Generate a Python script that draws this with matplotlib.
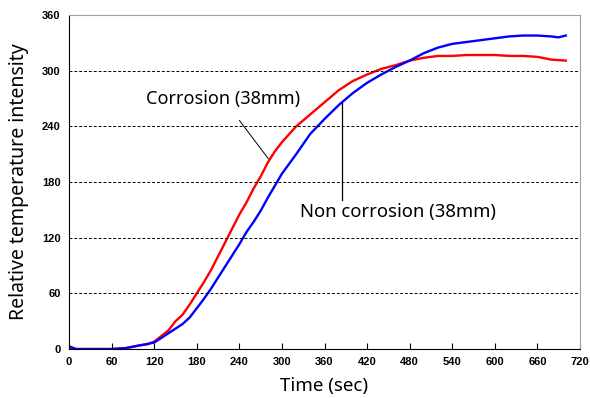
import matplotlib
matplotlib.use("Agg")
import matplotlib.pyplot as plt

# Corrosion (38mm) - red
t_cor = [0, 20, 40, 60, 80, 100, 110, 120, 130, 140, 150, 160, 170, 180, 190,
         200, 210, 220, 230, 240, 250, 260, 270, 280, 290, 300, 320, 340, 360,
         380, 400, 420, 440, 460, 480, 500, 520, 540, 560, 580, 600, 620, 640,
         660, 680, 700]
v_cor = [0, 0, 0, 0, 1, 4, 5, 8, 14, 20, 30, 37, 48, 60, 72,
         85, 100, 115, 130, 145, 158, 173, 186, 201, 213, 223, 240, 253, 266,
         279, 289, 296, 302, 306, 311, 314, 316, 316, 317, 317, 317, 316, 316,
         315, 312, 311]

# Non corrosion (38mm) - blue
t_non = [0, 10, 20, 40, 60, 80, 100, 120, 130, 140, 150, 160, 170, 180, 190,
         200, 210, 220, 230, 240, 250, 260, 270, 280, 290, 300, 320, 340, 360,
         380, 400, 420, 440, 460, 480, 500, 520, 540, 560, 580, 600, 620, 640,
         660, 680, 690, 700]
v_non = [3, 0, 0, 0, 0, 1, 4, 7, 12, 17, 22, 27, 34, 44, 54,
         65, 77, 89, 101, 113, 126, 137, 149, 163, 176, 189, 210, 232, 248,
         263, 276, 287, 296, 304, 311, 319, 325, 329, 331, 333, 335, 337, 338,
         338, 337, 336, 338]

x_ticks = list(range(0, 721, 60))
y_ticks = list(range(0, 361, 60))

fig = plt.figure(figsize=(5.9, 3.98), dpi=100)
ax = fig.add_axes([0.117, 0.123, 0.866, 0.839])

ax.plot(t_cor, v_cor, color="#ff0000", lw=1.7)
ax.plot(t_non, v_non, color="#0000ff", lw=1.7)

ax.set_xlim(0, 720)
ax.set_ylim(0, 360)
ax.set_xticks(x_ticks)
ax.set_yticks(y_ticks)
for y in y_ticks[1:-1]:
    ax.axhline(y, color="black", ls=(0, (3, 2)), lw=0.7)

ax.tick_params(axis="x", direction="in", length=4, width=0.8, pad=6)
ax.tick_params(axis="y", length=0, pad=6)
for lab in ax.get_xticklabels() + ax.get_yticklabels():
    lab.set_fontfamily("Liberation Sans")
    lab.set_fontweight("bold")
    lab.set_fontsize(8)

for s in ("top", "right"):
    ax.spines[s].set_color("#a0a0a0")
for s in ("left", "bottom"):
    ax.spines[s].set_color("black")

ax.set_xlabel("Time (sec)", fontsize=13.5, family="Noto Sans", labelpad=7)
ax.set_ylabel("Relative temperature intensity", fontsize=14, family="Noto Sans", labelpad=9)

ax.annotate("Corrosion (38mm)", xy=(281, 205), xytext=(217, 270),
            fontsize=13, family="Noto Sans", ha="center", va="center",
            arrowprops=dict(arrowstyle="-", color="black", lw=0.7,
                            shrinkA=9, shrinkB=0))
ax.text(463, 148, "Non corrosion (38mm)",
        fontsize=13.3, family="Noto Sans", ha="center", va="center")
ax.plot([385, 385], [265, 161], color="black", lw=0.9)

fig.savefig("out.png", dpi=100)
